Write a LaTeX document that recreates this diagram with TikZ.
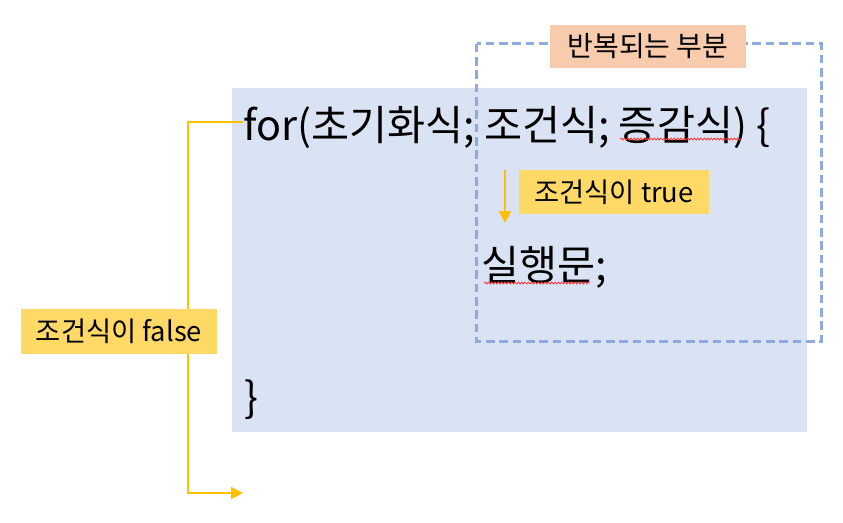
\documentclass[tikz,border=0pt]{standalone}
\usepackage{fontspec}
\setmainfont{Noto Sans CJK KR}
\usetikzlibrary{arrows.meta, positioning, decorations.pathmorphing}
\definecolor{codeblue}{HTML}{DAE3F3}
\definecolor{loopblue}{HTML}{8FAADC}
\definecolor{peach}{HTML}{F8CBAD}
\definecolor{labelyellow}{HTML}{FFD966}
\definecolor{flowyellow}{HTML}{FFC000}
\tikzstyle{codebox} = [rectangle, fill=codeblue, inner sep=0pt]
\tikzstyle{loopbox} = [rectangle, inner sep=0pt]
\tikzstyle{loopline} = [draw=loopblue, line width=2.2pt, dash pattern=on 6.5pt off 3.5pt]
\tikzstyle{title} = [rectangle, fill=peach, font=\fontsize{21}{24}\selectfont, inner sep=0pt]
\tikzstyle{cond} = [rectangle, fill=labelyellow, font=\fontsize{20.5}{24}\selectfont, inner sep=0pt]
\tikzstyle{code} = [font=\fontsize{31}{36}\selectfont, inner sep=0pt, anchor=base west]
\tikzstyle{flow} = [draw=flowyellow, line width=1.5pt, -{Triangle[length=9pt,width=9pt]}]
\tikzstyle{spell} = [draw=red!80, line width=0.6pt, decorate, decoration={snake, amplitude=0.7pt, segment length=2.5pt}]

\begin{document}
\begin{tikzpicture}[x=0.75pt, y=-0.75pt]
    \useasboundingbox (0,0) rectangle (843,522);

    % Code area
    \node (block) [codebox, minimum width=431.25pt, minimum height=258pt] at (519.5,260) {};

    % Repeated part
    \node (loop) [loopbox, minimum width=258pt, minimum height=222.75pt] at (649,192.5) {};
    \draw [loopline] (loop.north west) rectangle (loop.south east);
    \node (looptitle) [title, minimum width=147pt, minimum height=32.25pt] at (648,46.5) {반복되는 부분};

    % Code lines
    \node (head) [code] at (243,140) {for(초기화식; 조건식; 증감식) \{};
    \node (body) [code] at (481,280) {실행문;};
    \node (close) [code] at (244,412) {\}};

    % Spell-check marks
    \draw [spell] (620,139) -- (741,139);
    \draw [spell] (484,283) -- (590,283);

    % Conditions
    \node (true) [cond, minimum width=142.5pt, minimum height=33pt] at (614,192) {조건식이 true};
    \coordinate (tstart) at (505,170);
    \coordinate (tend) at (505,223);
    \coordinate (fcorner1) at (188,122);
    \coordinate (fcorner2) at (188,493);
    \coordinate (fend) at (243,493);

    % Arrows
    \draw [flow] (tstart) -- (tend);
    \draw [flow] (head.west |- fcorner1) -- (fcorner1) -- (fcorner2) -- (fend);
    \node (false) [cond, minimum width=147pt, minimum height=33.75pt] at (119,331.5) {조건식이 false};
\end{tikzpicture}
\end{document}
